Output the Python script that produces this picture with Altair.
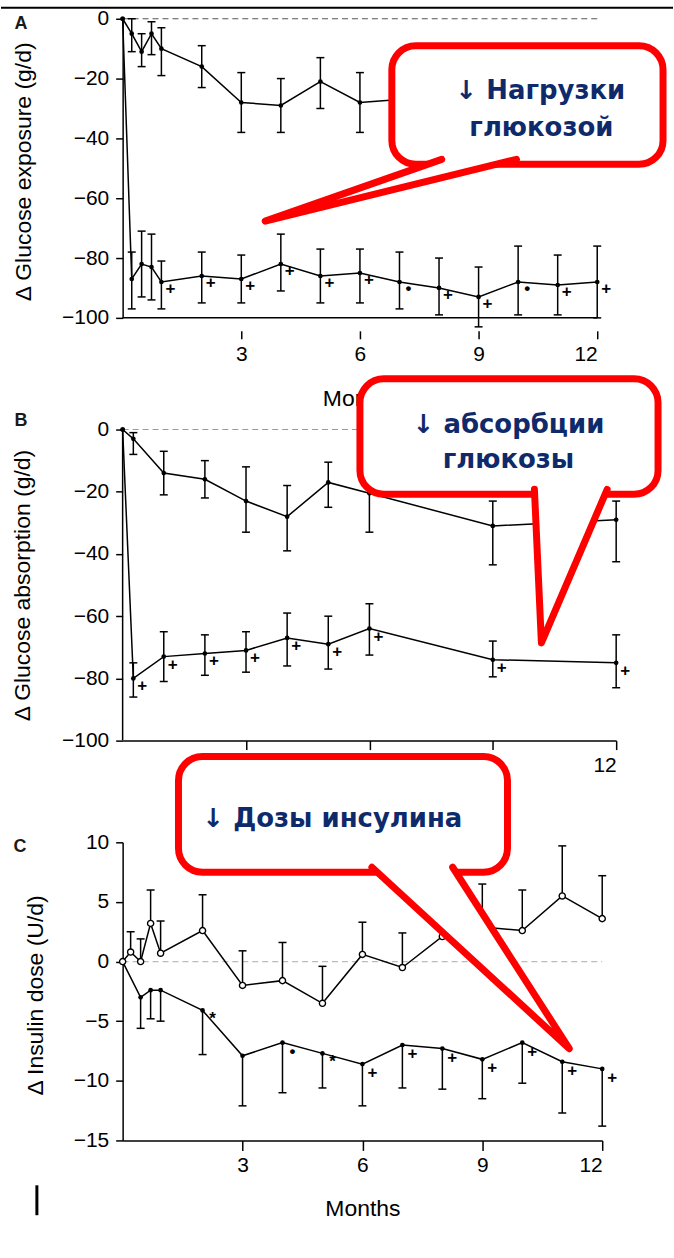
import altair as alt
import pandas as pd

FONT = "Liberation Sans"
NAVY = "#0f2a6b"
RED = "#ff0000"

# ---------------- data ----------------
# Panel A: change in glucose exposure (g/d)
a_up_months = [0, 0.23, 0.48, 0.73, 0.98, 2, 3, 4, 5, 6, 7]
a_up_vals = [0, -5, -11, -5, -10, -16, -28, -29, -21, -28, -27]
a_up_lo = [0, -11, -16, -12, -19, -23, -38, -38, -30, -38, -37]
a_up_hi = [0, 0, -5, -1, -3, -9, -18, -20, -13, -18, -17]

a_lo_months = [0, 0.23, 0.48, 0.73, 0.98, 2, 3, 4, 5, 6, 7, 8, 9, 10, 11, 12]
a_lo_vals = [0, -87, -82, -83, -88, -86, -87, -82, -86, -85, -88, -90, -93, -88, -89, -88]
a_lo_lo = [0, -97, -93, -94, -97, -95, -95, -91, -95, -95, -97, -99, -103, -99, -99, -100]
a_lo_hi = [0, -78, -71, -72, -81, -78, -79, -72, -77, -77, -78, -80, -83, -76, -79, -76]
a_lo_sig = ["", "", "", "", "+", "+", "+", "+", "+", "+", "•", "+", "+", "•", "+", "+"]

# Panel B: change in glucose absorption (g/d)
b_months = [0, 0.26, 1, 2, 3, 4, 5, 6, 9, 12]
b_up_vals = [0, -3, -14, -16, -23, -28, -17, -20.5, -31, -29]
b_up_lo = [0, -8, -21, -22, -33, -39, -25, -33, -43.5, -42.5]
b_up_hi = [0, -1, -7, -10, -12, -18, -10.5, -9, -23, -23]
b_lo_vals = [0, -80, -73, -72, -71, -67, -69, -64, -74, -75]
b_lo_lo = [0, -86, -81, -79, -78, -76, -77, -72.5, -79.5, -83]
b_lo_hi = [0, -75, -65, -66, -65, -59, -60, -56, -68, -66]
b_lo_sig = ["", "+", "+", "+", "+", "+", "+", "+", "+", "+"]

# Panel C: change in insulin dose (U/d)
c_open_months = [0, 0.2, 0.45, 0.7, 0.95, 2, 3, 4, 5, 6, 7, 8, 9, 10, 11, 12]
c_open_vals = [0, 0.8, 0, 3.2, 0.7, 2.6, -2.0, -1.6, -3.5, 0.6, -0.5, 2.1, 2.9, 2.6, 5.5, 3.6]
c_open_hi = [0, 2.5, 1.9, 6.0, 3.4, 5.6, 0.9, 1.6, -0.4, 3.3, 2.4, 5.0, 6.5, 6.0, 9.7, 7.2]
c_fill_months = [0, 0.45, 0.7, 0.95, 2, 3, 4, 5, 6, 7, 8, 9, 10, 11, 12]
c_fill_vals = [0, -3.0, -2.4, -2.4, -4.1, -7.9, -6.8, -7.7, -8.6, -7.0, -7.3, -8.2, -6.8, -8.4, -9.0]
c_fill_lo = [0, -5.6, -4.8, -5.0, -7.8, -12.1, -11.0, -10.6, -12.1, -10.6, -10.7, -11.5, -10.2, -12.7, -13.8]
c_fill_sig = ["", "", "", "", "*", "", "•", "*", "+", "+", "+", "+", "+", "+", "+"]

x_ticks = [3, 6, 9, 12]
a_y_ticks = [0, -20, -40, -60, -80, -100]
b_y_ticks = [0, -20, -40, -60, -80, -100]
c_y_ticks = [10, 5, 0, -5, -10, -15]

titles = {
    "A": "Δ Glucose exposure (g/d)",
    "B": "Δ Glucose absorption (g/d)",
    "C": "Δ Insulin dose (U/d)",
}
callouts = {
    "A": ["↓ Нагрузки", "глюкозой"],
    "B": ["↓ абсорбции", "глюкозы"],
    "C": ["↓ Дозы инсулина"],
}

one = pd.DataFrame({"k": [0]})


def sc(dom):
    return alt.Scale(domain=dom, nice=False, zero=False)


def series(months, vals, lo, hi, sig, xs, ys, xax, yax, cap_ends, hollow=False, dx=9, dy=7):
    df = pd.DataFrame({"m": months, "v": vals, "lo": lo, "hi": hi,
                       "sig": sig if sig else [""] * len(months)})
    X = alt.X("m:Q", scale=xs, axis=xax)
    base = alt.Chart(df)
    bars = base.transform_filter("datum.lo != datum.hi").mark_rule(
        color="black", strokeWidth=1.5).encode(
        x=X, y=alt.Y("lo:Q", scale=ys, axis=yax), y2="hi:Q")
    layers = [bars]
    for end in cap_ends:
        layers.append(base.transform_filter("datum.lo != datum.hi").mark_point(
            shape="M-1,0L1,0", size=64, color="black", strokeWidth=1.5,
            filled=False, opacity=1).encode(
            x=X, y=alt.Y(f"{end}:Q", scale=ys, axis=yax)))
    layers.append(base.mark_line(color="black", strokeWidth=1.5).encode(
        x=X, y=alt.Y("v:Q", scale=ys, axis=yax)))
    if hollow:
        layers.append(base.mark_circle(size=38, color="white", stroke="black",
                                       strokeWidth=1.4, opacity=1).encode(
            x=X, y=alt.Y("v:Q", scale=ys, axis=yax)))
    else:
        layers.append(base.mark_circle(size=22, color="black", opacity=1).encode(
            x=X, y=alt.Y("v:Q", scale=ys, axis=yax)))
    if sig:
        layers.append(base.mark_text(dx=dx, dy=dy, fontSize=17, fontWeight="bold",
                                     font=FONT, color="black").encode(
            x=X, y=alt.Y("v:Q", scale=ys, axis=yax), text="sig:N"))
    return layers


def path(ms, vs, xs, ys, xax, yax, color, width=1.5, dash=None):
    df = pd.DataFrame({"m": ms, "v": vs, "i": list(range(len(ms)))})
    kw = {"strokeDash": dash} if dash else {}
    return alt.Chart(df).mark_line(color=color, strokeWidth=width, **kw).encode(
        x=alt.X("m:Q", scale=xs, axis=xax),
        y=alt.Y("v:Q", scale=ys, axis=yax),
        order="i:Q")


def bubble(box, tail, lines, text_pos, align="center"):
    x0, y0, x1, y1 = box
    rect = alt.Chart(one).mark_rect(cornerRadius=24, fill="white", stroke=RED,
                                    strokeWidth=7).encode(
        x=alt.value(x0), x2=alt.value(x1), y=alt.value(y0), y2=alt.value(y1))
    tdf = pd.DataFrame({"px": [p[0] for p in tail], "py": [p[1] for p in tail],
                        "i": list(range(len(tail)))})
    tl = alt.Chart(tdf).mark_line(fill="white", stroke=RED, strokeWidth=7,
                                  strokeJoin="round", strokeCap="round").encode(
        x=alt.X("px:Q", scale=None, axis=None),
        y=alt.Y("py:Q", scale=None, axis=None),
        order="i:Q")
    texts = []
    for s, (tx, ty) in zip(lines, text_pos):
        texts.append(alt.Chart(one).mark_text(
            font="DejaVu Sans", fontSize=26, fontWeight="bold", color=NAVY, align=align,
            baseline="alphabetic").encode(
            x=alt.value(tx), y=alt.value(ty), text=alt.value(s)))
    return [rect, tl] + texts


def letter(s, x, y):
    return alt.Chart(one).mark_text(font=FONT, fontSize=18, fontWeight="bold",
                                    color="#1a1a1a").encode(
        x=alt.value(x), y=alt.value(y), text=alt.value(s))


def yaxis(values, title, tx, ty, domain=True):
    return alt.Axis(values=values, title=title, domain=domain, tickSize=7,
                    labelPadding=7, titleX=tx, titleY=ty, titleAngle=-90,
                    titleBaseline="alphabetic", titleAlign="center")


# ---------------- Panel A ----------------
xa, ya = sc([0, 12]), sc([-100, 0])
xax_a = alt.Axis(values=x_ticks, title="Months", domain=False, offset=13, tickSize=8,
                 labelPadding=5, titleY=75, titleBaseline="alphabetic")
yax_a = yaxis(a_y_ticks, titles["A"], -92, 153)
panel_a = alt.layer(
    path([0, 12], [0, 0], xa, ya, xax_a, yax_a, "#555555", 1.2, [6, 4]),
    path([0, 12], [-100, -100], xa, ya, xax_a, yax_a, "black", 1.5),
    *series(a_up_months, a_up_vals, a_up_lo, a_up_hi, None, xa, ya, xax_a, yax_a, ["lo", "hi"]),
    *series(a_lo_months, a_lo_vals, a_lo_lo, a_lo_hi, a_lo_sig, xa, ya, xax_a, yax_a,
            ["lo", "hi"], dx=9, dy=7),
    alt.Chart(one).mark_rule(color="black", strokeWidth=2).encode(
        x=alt.value(-122), x2=alt.value(552), y=alt.value(-11)),
    alt.Chart(one).mark_rule(opacity=0, strokeWidth=0.5).encode(
        x=alt.value(-122), x2=alt.value(-121), y=alt.value(-17), y2=alt.value(-17)),
    letter("A", -102, 5),
    *bubble((270, 27, 542, 146), [(320, 141), (143, 203), (395, 141)],
            callouts["A"], [(419, 80), (420, 118)]),
).properties(width=476, height=300)

# ---------------- Panel B ----------------
# (its "Months" title sits under the callout in the reference, so it is left out)
xb, yb = sc([0, 12]), sc([-100, 3.2])
xax_b = alt.Axis(values=x_ticks, title=None, tickSize=9, labelPadding=5)
yax_b = yaxis(b_y_ticks, titles["B"], -93, 166, domain=False)
panel_b = alt.layer(
    path([0, 12], [0, 0], xb, yb, xax_b, yax_b, "#999999", 1.2, [6, 4]),
    path([0, 0], [0, -100], xb, yb, xax_b, yax_b, "black", 1.5),
    *series(b_months, b_up_vals, b_up_lo, b_up_hi, None, xb, yb, xax_b, yax_b, ["lo", "hi"]),
    *series(b_months, b_lo_vals, b_lo_lo, b_lo_hi, b_lo_sig, xb, yb, xax_b, yax_b,
            ["lo", "hi"], dx=9, dy=8),
    letter("B", -102, 1),
    *bubble((238, -41, 537, 75), [(413, 70), (420, 224), (486, 70)],
            callouts["B"], [(387, 13), (387, 49)]),
).properties(width=495, height=322)

# ---------------- Panel C ----------------
xc, yc = sc([0, 12]), sc([-15, 10])
xax_c = alt.Axis(values=x_ticks, title="Months", tickSize=10, labelPadding=4,
                 titleY=75, titleBaseline="alphabetic")
yax_c = yaxis(c_y_ticks, titles["C"], -80, 153)
panel_c = alt.layer(
    path([0, 12], [0, 0], xc, yc, xax_c, yax_c, "#bbbbbb", 1.2, [6, 4]),
    *series(c_fill_months, c_fill_vals, c_fill_lo, c_fill_vals, c_fill_sig, xc, yc, xax_c, yax_c,
            ["lo"], dx=10, dy=9),
    *series(c_open_months, c_open_vals, c_open_vals, c_open_hi, None, xc, yc, xax_c, yax_c,
            ["hi"], hollow=True),
    letter("C", -103, 5),
    alt.Chart(one).mark_rule(color="black", strokeWidth=3).encode(
        x=alt.value(-86), y=alt.value(344), y2=alt.value(374)),
    *bubble((56, -86, 386, 30), [(250, 25), (448, 207), (331, 25)],
            callouts["C"], [(80, -15)], align="left"),
).properties(width=481, height=299)

chart = alt.vconcat(panel_a, panel_b, panel_c, spacing=102, bounds="flush").properties(
    padding=0
).configure_axis(
    labelFont=FONT, titleFont=FONT, labelFontSize=21, titleFontSize=23,
    labelColor="black", titleColor="black", titleFontWeight="normal",
    domainColor="black", tickColor="black", domainWidth=1.5, tickWidth=1.5, grid=False
).configure_view(stroke=None)

chart.save("out.html", embed_options={"renderer": "svg", "actions": False})
